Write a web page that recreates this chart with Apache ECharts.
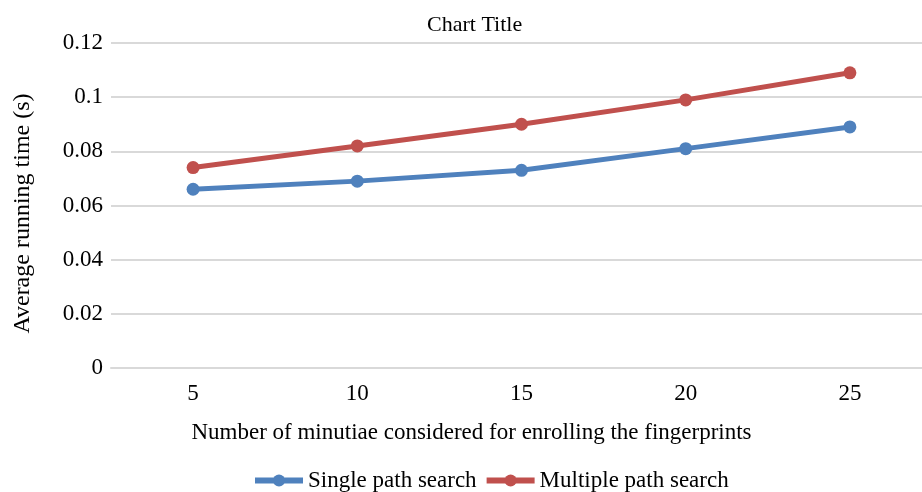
<!DOCTYPE html>
<html>
<head>
<meta charset="utf-8">
<script src="https://cdn.jsdelivr.net/npm/echarts@6/dist/echarts.min.js"></script>
<style>
  html, body { margin: 0; padding: 0; background: #ffffff; }
  #chart { width: 922px; height: 492px; }
</style>
</head>
<body>
<div id="chart"></div>
<script>
// Number of minutiae used when enrolling
const minutiae = ['5', '10', '15', '20', '25'];
// Average running time in seconds
const singlePath = [0.066, 0.069, 0.073, 0.081, 0.089];
const multiplePath = [0.074, 0.082, 0.090, 0.099, 0.109];
const seriesNames = ['Single path search', 'Multiple path search'];

const FONT = '"Liberation Serif", "Times New Roman", serif';
const chart = echarts.init(document.getElementById('chart'));

chart.setOption({
  backgroundColor: '#ffffff',
  animation: false,
  title: {
    text: 'Chart Title',
    left: 422,
    top: 9,
    textStyle: { fontFamily: FONT, fontSize: 22, fontWeight: 'normal', color: '#000000' }
  },
  legend: {
    data: seriesNames,
    left: 247,
    top: 464,
    itemWidth: 48,
    itemHeight: 15,
    itemGap: 7,
    lineStyle: { width: 6 },
    textStyle: { fontFamily: FONT, fontSize: 23, color: '#000000' }
  },
  grid: { left: 111, top: 43, width: 821, height: 325, outerBoundsMode: 'none', containLabel: false },
  xAxis: {
    type: 'category',
    data: minutiae,
    boundaryGap: true,
    axisLine: { lineStyle: { color: '#d9d9d9', width: 2 } },
    axisTick: { show: false },
    axisLabel: { fontFamily: FONT, fontSize: 23, color: '#000000', margin: 14 },
    name: 'Number of minutiae considered for enrolling the fingerprints',
    nameLocation: 'middle',
    nameGap: 53,
    nameTextStyle: { fontFamily: FONT, fontSize: 23, color: '#000000', padding: [0, 100, 0, 0] }
  },
  yAxis: {
    type: 'value',
    min: 0,
    max: 0.12,
    interval: 0.02,
    axisLine: { show: false },
    axisTick: { show: false },
    splitLine: { lineStyle: { color: '#d9d9d9', width: 2 } },
    axisLabel: { fontFamily: FONT, fontSize: 23, color: '#000000', margin: 8 },
    name: 'Average running time (s)',
    nameLocation: 'middle',
    nameGap: 76,
    nameTextStyle: { fontFamily: FONT, fontSize: 24, color: '#000000', padding: [0, 16, 0, 0] }
  },
  series: [
    {
      name: seriesNames[0],
      type: 'line',
      data: singlePath,
      symbol: 'circle',
      symbolSize: 13,
      color: '#4F81BD',
      lineStyle: { width: 5, color: '#4F81BD' },
      itemStyle: { color: '#4F81BD' }
    },
    {
      name: seriesNames[1],
      type: 'line',
      data: multiplePath,
      symbol: 'circle',
      symbolSize: 13,
      color: '#C0504D',
      lineStyle: { width: 5, color: '#C0504D' },
      itemStyle: { color: '#C0504D' }
    }
  ]
});
</script>
</body>
</html>
